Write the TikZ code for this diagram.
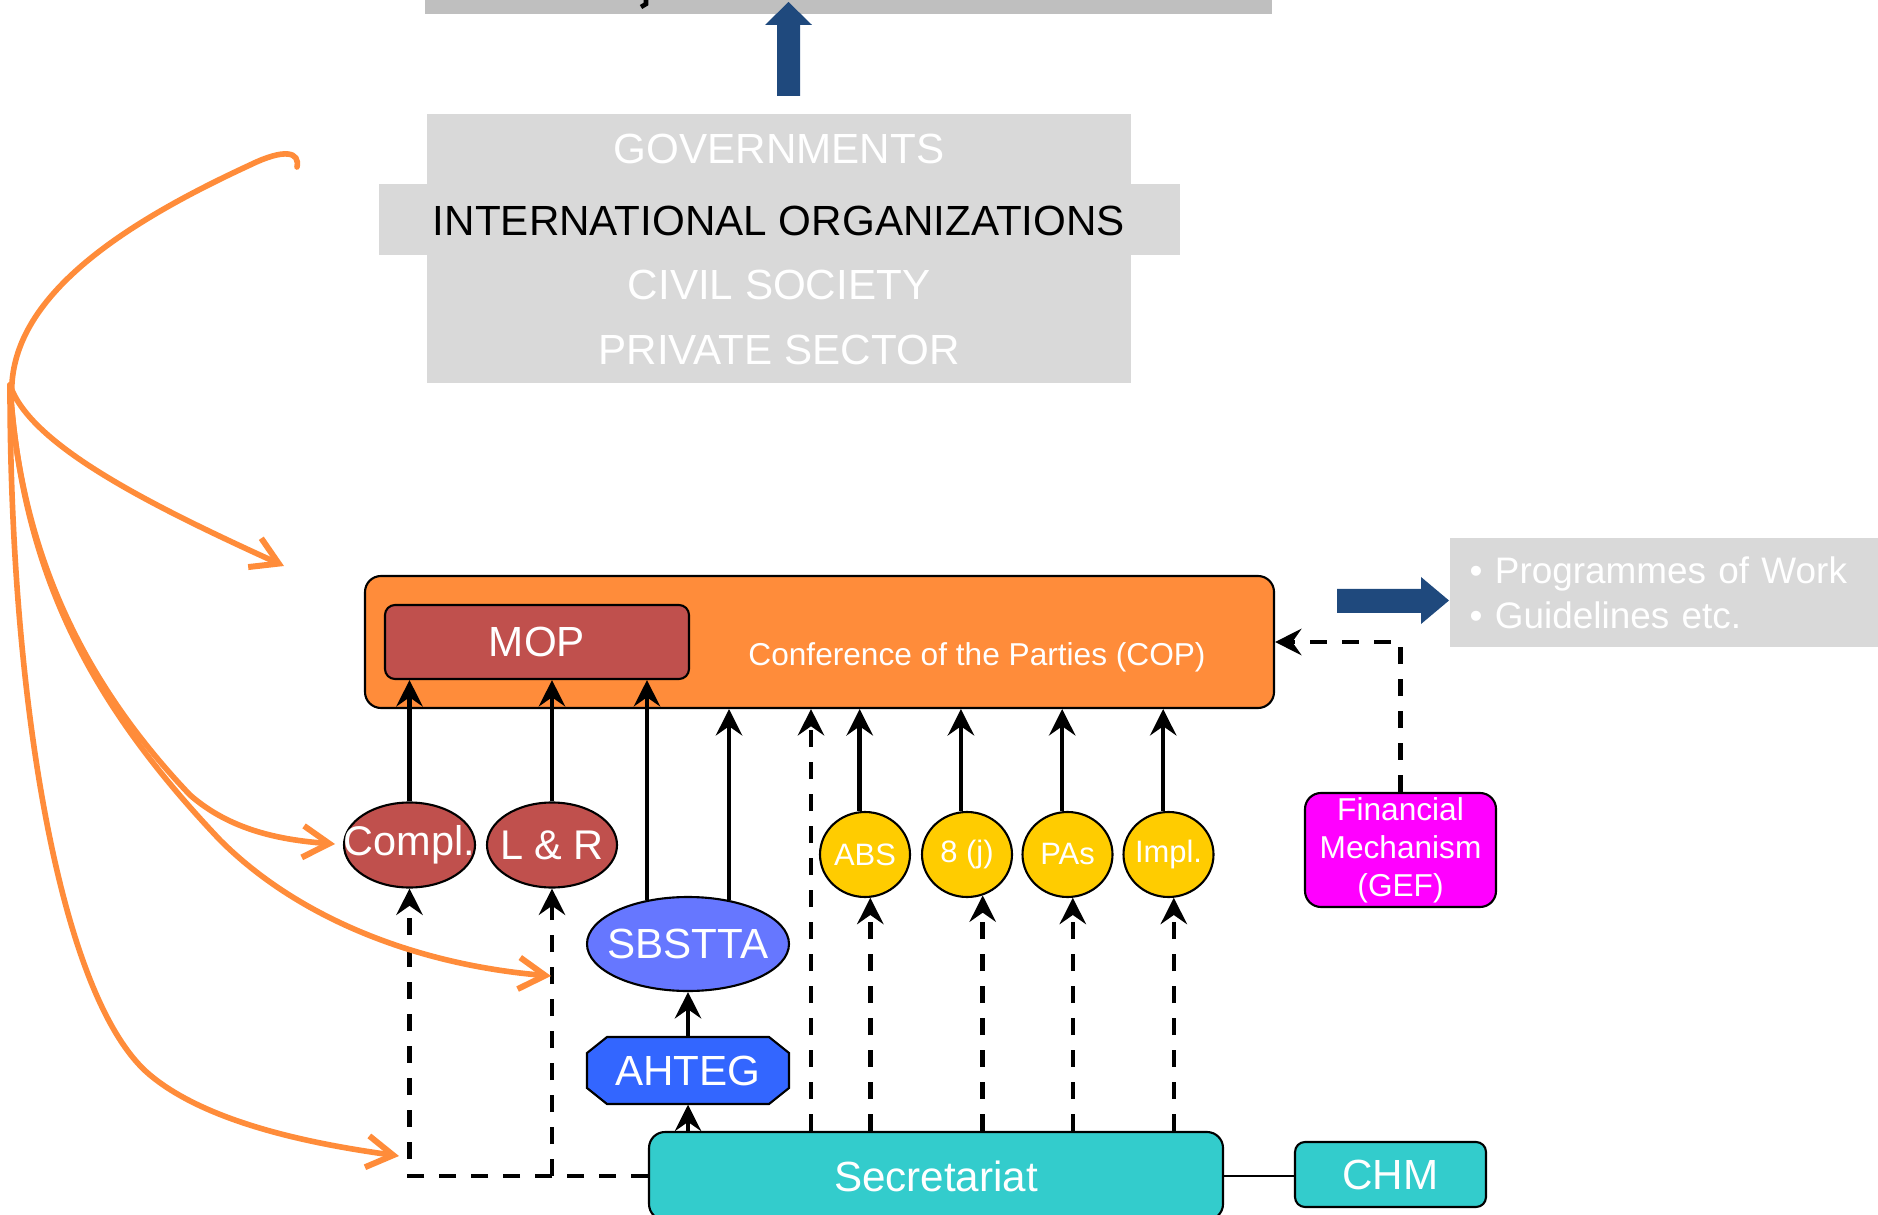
\documentclass[tikz,border=0pt]{standalone}
\usepackage{fontspec}
\setmainfont{Liberation Sans}
\usetikzlibrary{arrows.meta,shapes.geometric,calc}

\definecolor{copor}{RGB}{255,140,58}
\definecolor{mopred}{RGB}{192,80,77}
\definecolor{sbblue}{RGB}{102,119,255}
\definecolor{ahblue}{RGB}{51,102,255}
\definecolor{yel}{RGB}{255,204,0}
\definecolor{teal}{RGB}{51,204,204}
\definecolor{mag}{RGB}{255,0,255}
\definecolor{lgrey}{RGB}{217,217,217}
\definecolor{mgrey}{RGB}{191,191,191}
\definecolor{navy}{RGB}{31,73,125}

\newcommand{\fs}[2]{\fontsize{#1}{#2}\selectfont}

\begin{document}
\begin{tikzpicture}[x=0.1mm, y=-0.1mm,
  box/.style={draw=black, line width=0.6pt, text=white, inner sep=0pt},
  oval/.style={ellipse, draw=black, line width=0.6pt, inner sep=0pt, text=white},
  solidarrow/.style={line width=1.3pt, -{Stealth[length=7.5pt,width=7.5pt,inset=2.6pt]}},
  dasharrow/.style={line width=1.3pt, dash pattern=on 4.8pt off 4.3pt,
                    -{Stealth[length=7.5pt,width=7.5pt,inset=2.6pt]}},
  orangearrow/.style={draw=copor, line width=1.6pt, line cap=round,
                      -{Straight Barb[length=7.5pt,width=9pt,line width=1.7pt]}},
  stake/.style={text=white, font=\fs{12}{14}},
]
\useasboundingbox (0,0) rectangle (1878,1215);
\clip (0,0) rectangle (1878,1215);

% ---- top: grey bar and block arrow ----
\fill[mgrey] (425,0) rectangle (1272,14);
\draw[line width=1.3pt] (646,-2) -- (646,4) -- (641,7);
\fill[navy] (777,96) -- (777,25) -- (765,25) -- (788.5,2) -- (812,25) -- (800,25) -- (800,96) -- cycle;

% ---- stakeholders ----
\fill[lgrey] (427,114) rectangle (1131,383);
\fill[lgrey] (379,184) rectangle (1180,255);
\node[stake] (gov)  at (779,149) {GOVERNMENTS};
\node[stake, text=black] (intl) at (779,221) {INTERNATIONAL ORGANIZATIONS};
\node[stake] (civ)  at (779,285) {CIVIL SOCIETY};
\node[stake] (priv) at (779,350) {PRIVATE SECTOR};

% ---- COP and MOP ----
\node[box, fill=copor, rounded corners=1.6mm, minimum width=90.9mm, minimum height=13.2mm] (cop) at (819.5,642) {};
\node[text=white, font=\fs{9}{11}] (coplabel) at (977,657) {Conference of the Parties (COP)};
\node[box, fill=mopred, rounded corners=1mm, minimum width=30.4mm, minimum height=7.4mm, font=\fs{12}{14}] (mop) at (537,642) {MOP};

% ---- outputs ----
\fill[navy] (1337,589) -- (1421,589) -- (1421,577) -- (1449,600.5) -- (1421,624) -- (1421,613) -- (1337,613) -- cycle;
\node[fill=lgrey, anchor=west, minimum width=42.9mm, minimum height=10.9mm, text width=38.9mm,
      inner xsep=2mm, inner ysep=0pt, align=left, text=white, font=\fs{10.5}{12.8}] (prog) at (1449,592.5)
  {\textbullet\ Programmes of Work\\\textbullet\ Guidelines etc.};

% ---- subsidiary bodies ----
\node[oval, fill=mopred, minimum width=13.1mm, minimum height=8.5mm, font=\fs{11.8}{14}] (compl) at (409.5,845) {\makebox[0pt]{\raisebox{-0.4mm}{Compl.}}};
\node[oval, fill=mopred, minimum width=13mm, minimum height=8.5mm, font=\fs{11.8}{14}] (lr) at (552,845) {\makebox[0pt]{\raisebox{-0.4mm}{L \& R}}};
\node[oval, fill=sbblue, minimum width=20.2mm, minimum height=9.4mm, font=\fs{12}{14}] (sbstta) at (688,944) {\makebox[0pt]{SBSTTA}};

% AHTEG: chamfered box
\filldraw[fill=ahblue, draw=black, line width=0.6pt]
  (607,1037) -- (769,1037) -- (789,1053) -- (789,1088) -- (769,1104)
  -- (607,1104) -- (587,1088) -- (587,1053) -- cycle;
\node[inner sep=0pt, minimum width=20.2mm, minimum height=6.7mm, text=white, font=\fs{12}{14}] (ahteg) at (688,1070.5) {AHTEG};

\node[oval, fill=yel, minimum width=9mm, minimum height=8.5mm, font=\fs{8.8}{10}] (abs)  at (865,854.5)  {\makebox[0pt]{\raisebox{-0.25mm}{ABS}}};
\node[oval, fill=yel, minimum width=9mm, minimum height=8.5mm, font=\fs{8.8}{10}] (eightj) at (967,854.5) {\makebox[0pt]{\raisebox{-0.25mm}{8 (j)}}};
\node[oval, fill=yel, minimum width=9mm, minimum height=8.5mm, font=\fs{8.8}{10}] (pas)  at (1067.5,854.5) {\makebox[0pt]{\raisebox{-0.25mm}{PAs}}};
\node[oval, fill=yel, minimum width=9mm, minimum height=8.5mm, font=\fs{8.8}{10}] (impl) at (1168.5,854.5) {\makebox[0pt]{\raisebox{-0.25mm}{Impl.}}};

\node[box, fill=mag, rounded corners=1.6mm, minimum width=19.1mm, minimum height=11.4mm,
      align=center, font=\fs{9}{10.8}] (gef) at (1400.5,850) {\raisebox{-0.4mm}{Financial}\\\raisebox{-0.4mm}{Mechanism}\\\raisebox{-0.4mm}{(GEF)}};

\node[box, fill=teal, rounded corners=1.6mm, minimum width=57.4mm, minimum height=8.8mm, font=\fs{12}{14}] (secr) at (936,1176) {Secretariat};
\node[box, fill=teal, rounded corners=1mm, minimum width=19.1mm, minimum height=6.5mm, font=\fs{12}{14}] (chm) at (1390.5,1174.5) {CHM};

% ---- reporting lines into MOP / COP ----
\draw[solidarrow] (compl.north) -- (compl.north |- mop.south);
\draw[solidarrow] (lr.north) -- (lr.north |- mop.south);
\draw[solidarrow] (sbstta.133) -- (sbstta.133 |- mop.south);
\draw[solidarrow] (sbstta.47) -- (sbstta.47 |- cop.south);
\draw[solidarrow] (abs.97) -- (abs.97 |- cop.south);
\draw[solidarrow] (eightj.98) -- (eightj.98 |- cop.south);
\draw[solidarrow] (pas.97) -- (pas.97 |- cop.south);
\draw[solidarrow] (impl.97) -- (impl.97 |- cop.south);
\draw[solidarrow] (ahteg.north) -- (sbstta.south);
\draw[solidarrow] (secr.north -| ahteg.south) -- (ahteg.south);

% ---- secretariat support (dashed) ----
\coordinate (copfeed) at (811,0);
\draw[dasharrow] (copfeed |- secr.north) -- (copfeed |- cop.south);
\draw[dasharrow] (abs.-83 |- secr.north) -- (abs.-83);
\draw[dasharrow] (eightj.-69 |- secr.north) -- (eightj.-69);
\draw[dasharrow] (pas.-83 |- secr.north) -- (pas.-83);
\draw[dasharrow] (impl.-83 |- secr.north) -- (impl.-83);
\draw[dasharrow] (secr.west) -- (compl.south |- secr.west) -- (compl.south);
\draw[dasharrow] (lr.south |- secr.west) -- (lr.south);
\draw[dasharrow] (gef.north) |- (cop.east);
\draw[line width=0.6pt] (secr.east) -- (secr.east -| chm.west);

% ---- stakeholder participation (orange) ----
\coordinate (src) at (10,385);
\coordinate (tcop) at (284,566);
\coordinate (tcompl) at (335,844);
\coordinate (tlr) at (551,976);
\coordinate (tsecr) at (399,1156);
\draw[draw=copor, line width=1.6pt, line cap=round] (12,400) .. controls (5,300) and (120,225) .. (250,165)
   .. controls (285,148) and (300,152) .. (297,167);
\draw[orangearrow] (src) .. controls (30,445) and (150,505) .. (tcop);
\draw[orangearrow] (src) .. controls (20,560) and (90,690) .. (190,795) .. controls (230,830) and (280,840) .. (tcompl);
\draw[orangearrow] (src) .. controls (22,575) and (92,705) .. (220,840) .. controls (300,920) and (420,965) .. (tlr);
\draw[orangearrow] (src) .. controls (10,700) and (60,1000) .. (150,1075) .. controls (210,1125) and (320,1145) .. (tsecr);
\end{tikzpicture}
\end{document}
